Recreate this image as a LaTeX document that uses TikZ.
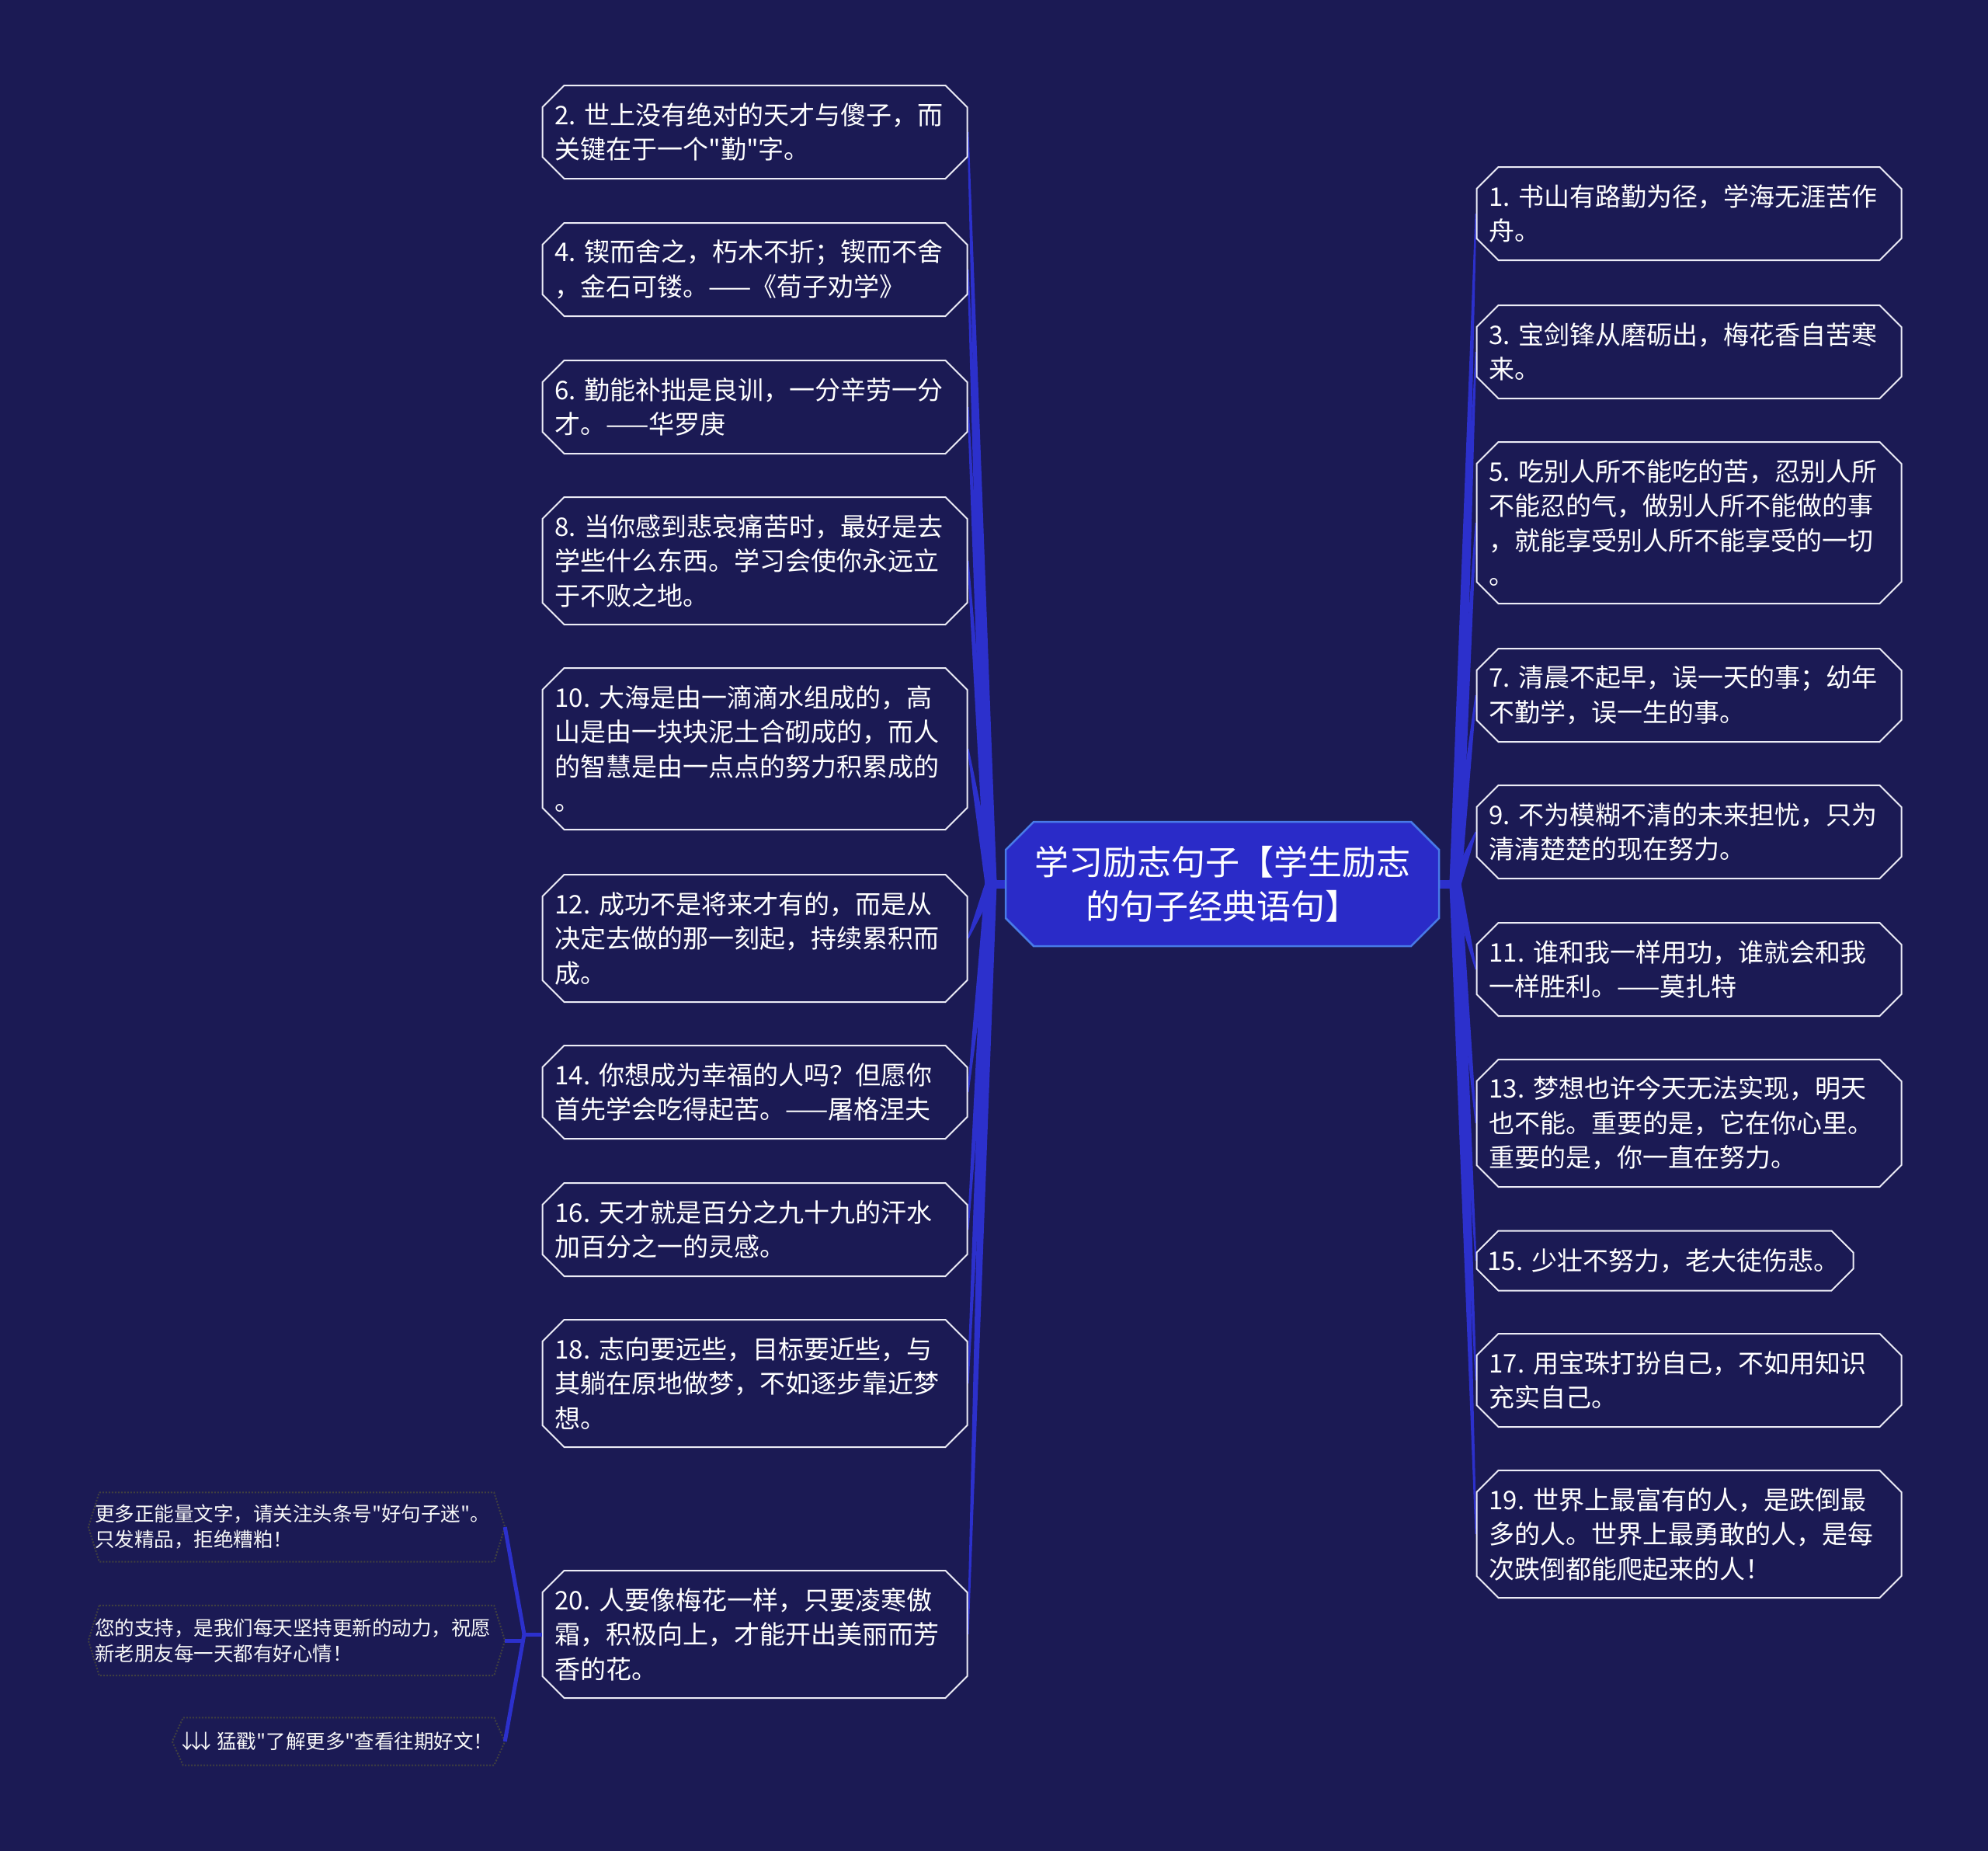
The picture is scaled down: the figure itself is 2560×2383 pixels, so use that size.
\documentclass[tikz,border=0pt]{standalone}
\usepackage{fontspec}
\setmainfont{Noto Sans CJK SC}[Ligatures=TeXOff]
\usetikzlibrary{calc,shapes.misc,backgrounds}
\definecolor{navy}{RGB}{27,26,84}
\definecolor{deepblue}{RGB}{42,43,200}
\definecolor{skyline}{RGB}{72,122,232}
\definecolor{branchblue}{RGB}{44,48,204}
\definecolor{leafline}{RGB}{236,236,246}
\newcommand\downarr{\makebox[12pt]{↓}}

\tikzset{
  leaf/.style={chamfered rectangle, chamfered rectangle xsep=14pt,
    chamfered rectangle ysep=14pt, draw=leafline, line width=2pt, fill=navy,
    text=white, text width=515pt, align=left, inner xsep=2pt, inner ysep=0pt,
    font=\fontsize{33}{44.5}\selectfont},
  one/.style={minimum height=77pt},
  two/.style={minimum height=120pt},
  three/.style={minimum height=164pt},
  four/.style={minimum height=208pt},
  centre/.style={chamfered rectangle, chamfered rectangle xsep=18pt,
    chamfered rectangle ysep=18pt, draw=skyline, line width=2.5pt,
    fill=deepblue, text=white, align=center, minimum width=558pt,
    minimum height=160pt, font=\fontsize{44}{57}\selectfont},
  note/.style={rectangle, text=white!94!gray, text width=520pt, align=left,
    inner xsep=8pt, inner ysep=0pt, minimum width=536pt,
    font=\fontsize{25.5}{33}\selectfont},
  noteline/.style={draw=black!75, dotted, line width=2pt},
  twig/.style={draw=branchblue, line width=5pt},
}

\begin{document}
\frenchspacing
\begin{tikzpicture}[x=1pt,y=-1pt]
\useasboundingbox (0,0) rectangle (2560,2383);

% centre
\node[centre] (c) at (1574,1138) {学习励志句子【学生励志\\的句子经典语句】};
\coordinate (jl) at (1276,1138);
\coordinate (jr) at (1874,1138);

% left column
\node[leaf, two] (l2) at (972,170) {2. 世上没有绝对的天才与傻子，而\\关键在于一个"勤"字。};
\node[leaf, two] (l4) at (972,347) {4. 锲而舍之，朽木不折；锲而不舍\\，金石可镂。——《荀子劝学》};
\node[leaf, two] (l6) at (972,524) {6. 勤能补拙是良训，一分辛劳一分\\才。——华罗庚};
\node[leaf, three] (l8) at (972,722) {8. 当你感到悲哀痛苦时，最好是去\\学些什么东西。学习会使你永远立\\于不败之地。};
\node[leaf, four] (l10) at (972,964) {10. 大海是由一滴滴水组成的，高\\山是由一块块泥土合砌成的，而人\\的智慧是由一点点的努力积累成的\\。};
\node[leaf, three] (l12) at (972,1208) {12. 成功不是将来才有的，而是从\\决定去做的那一刻起，持续累积而\\成。};
\node[leaf, two] (l14) at (972,1406) {14. 你想成为幸福的人吗？但愿你\\首先学会吃得起苦。——屠格涅夫};
\node[leaf, two] (l16) at (972,1583) {16. 天才就是百分之九十九的汗水\\加百分之一的灵感。};
\node[leaf, three] (l18) at (972,1781) {18. 志向要远些，目标要近些，与\\其躺在原地做梦，不如逐步靠近梦\\想。};
\node[leaf, three] (l20) at (972,2104) {20. 人要像梅花一样，只要凌寒傲\\霜，积极向上，才能开出美丽而芳\\香的花。};

% right column
\node[leaf, two] (r1) at (2175,275) {1. 书山有路勤为径，学海无涯苦作\\舟。};
\node[leaf, two] (r3) at (2175,453) {3. 宝剑锋从磨砺出，梅花香自苦寒\\来。};
\node[leaf, four] (r5) at (2175,673) {5. 吃别人所不能吃的苦，忍别人所\\不能忍的气，做别人所不能做的事\\，就能享受别人所不能享受的一切\\。};
\node[leaf, two] (r7) at (2175,895) {7. 清晨不起早，误一天的事；幼年\\不勤学，误一生的事。};
\node[leaf, two] (r9) at (2175,1071) {9. 不为模糊不清的未来担忧，只为\\清清楚楚的现在努力。};
\node[leaf, two] (r11) at (2175,1248) {11. 谁和我一样用功，谁就会和我\\一样胜利。——莫扎特};
\node[leaf, three] (r13) at (2175,1446) {13. 梦想也许今天无法实现，明天\\也不能。重要的是，它在你心里。\\重要的是，你一直在努力。};
\node[leaf, one, text width=457pt, inner xsep=0pt] (r15) at (2144,1623) {15. 少壮不努力，老大徒伤悲。};
\node[leaf, two] (r17) at (2175,1777) {17. 用宝珠打扮自己，不如用知识\\充实自己。};
\node[leaf, three] (r19) at (2175,1975) {19. 世界上最富有的人，是跌倒最\\多的人。世界上最勇敢的人，是每\\次跌倒都能爬起来的人！};

% notes under leaf 20
\node[note, minimum height=89pt] (n1) at (382,1966) {更多正能量文字，请关注头条号"好句子迷"。\\只发精品，拒绝糟粕！};
\node[note, minimum height=90pt] (n2) at (382,2112) {您的支持，是我们每天坚持更新的动力，祝愿\\新老朋友每一天都有好心情！};
\node[note, minimum height=61pt, text width=402pt, minimum width=428pt, inner xsep=13pt] (n3) at (436,2242) {\downarr\downarr\downarr{} 猛戳"了解更多"查看往期好文！};
\coordinate (jn) at (675,2104);

\begin{scope}[on background layer]
\fill[navy] (0,0) rectangle (2560,2383);
% branches
\draw[branchblue, line width=11pt] (c.west) -- (jl);
\draw[branchblue, line width=11pt] (c.east) -- (jr);
\foreach \n in {l2,l4,l6,l8,l10,l12,l14,l16,l18,l20}
  \fill[branchblue] ($(jl)!7.5pt!90:(\n.east)$) -- ($(\n.east)!1pt!-90:(jl)$)
    -- ($(\n.east)!1pt!90:(jl)$) -- ($(jl)!7.5pt!-90:(\n.east)$) -- cycle;
\foreach \n in {r1,r3,r5,r7,r9,r11,r13,r15,r17,r19}
  \fill[branchblue] ($(jr)!7.5pt!90:(\n.west)$) -- ($(\n.west)!1pt!-90:(jr)$)
    -- ($(\n.west)!1pt!90:(jr)$) -- ($(jr)!7.5pt!-90:(\n.west)$) -- cycle;
\end{scope}

% note outlines and links
\foreach \n in {n1,n2,n3}
  \draw[noteline] ($(\n.north west)+(14,0)$) -- ($(\n.north east)+(-14,0)$) -- (\n.east)
    -- ($(\n.south east)+(-14,0)$) -- ($(\n.south west)+(14,0)$) -- (\n.west) -- cycle;
\draw[twig] (l20.west) -- (jn);
\draw[twig] (jn) -- (n1.east);
\draw[twig] (jn) -- (n3.east);
\draw[twig] (n2.east) -- (n2.east -| jn);

\end{tikzpicture}
\end{document}
